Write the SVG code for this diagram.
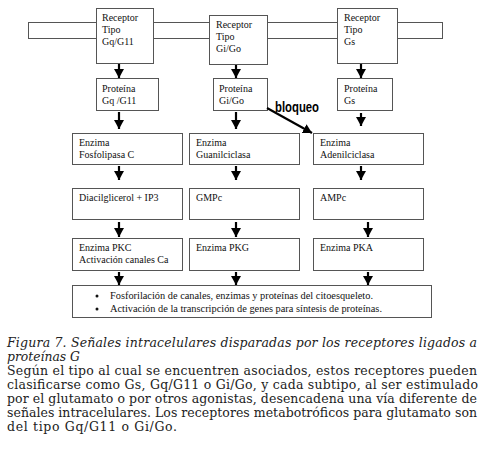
<svg xmlns="http://www.w3.org/2000/svg" width="486" height="449" viewBox="0 0 486 449">
<style>
.box{fill:#fff;stroke:#555;stroke-width:1}
.t{font-family:"Liberation Serif","Times New Roman",serif;font-size:10px;fill:#111}
.s{font-family:"Liberation Serif","Times New Roman",serif;font-size:9.5px;fill:#111}
.cap{font-family:"DejaVu Serif","Liberation Serif",serif;font-size:12.5px;fill:#222}
.ar{stroke:#000;stroke-width:2.2;fill:none}
</style>
<defs>
<marker id="ah" viewBox="0 0 9 10" markerWidth="9" markerHeight="10" refX="9" refY="5" orient="auto" markerUnits="userSpaceOnUse">
<path d="M0,0 L9,5 L0,10 z" fill="#000"/>
</marker>
</defs>
<rect width="486" height="449" fill="#fff"/>
<g id="membrana">
<rect x="28.5" y="22.5" width="414" height="16" fill="none" stroke="#555"/>
</g>
<g id="receptor-gq">
<rect class="box" x="96.5" y="8.5" width="57" height="55"/>
<text class="t" x="102" y="21">Receptor</text>
<text class="t" x="102" y="33">Tipo</text>
<text class="t" x="102" y="45">Gq/G11</text>
</g>
<g id="receptor-gi">
<rect class="box" x="209.5" y="15.5" width="58" height="49"/>
<text class="t" x="216" y="28">Receptor</text>
<text class="t" x="216" y="40">Tipo</text>
<text class="t" x="216" y="52">Gi/Go</text>
</g>
<g id="receptor-gs">
<rect class="box" x="337.5" y="8.5" width="60" height="55"/>
<text class="t" x="344" y="21">Receptor</text>
<text class="t" x="344" y="33">Tipo</text>
<text class="t" x="344" y="45">Gs</text>
</g>
<g id="proteina-gq">
<rect class="box" x="96.5" y="78.5" width="62" height="32"/>
<text class="t" x="102" y="92">Proteína</text>
<text class="t" x="102" y="104">Gq /G11</text>
</g>
<g id="proteina-gi">
<rect class="box" x="213.5" y="78.5" width="54" height="32"/>
<text class="t" x="219" y="92">Proteína</text>
<text class="t" x="219" y="104">Gi/Go</text>
</g>
<g id="proteina-gs">
<rect class="box" x="337.5" y="78.5" width="55" height="32"/>
<text class="t" x="344" y="92">Proteína</text>
<text class="t" x="344" y="104">Gs</text>
</g>
<g id="enzima-plc">
<rect class="box" x="72.5" y="133.5" width="110" height="31"/>
<text class="t" x="79" y="146">Enzima</text>
<text class="t" x="79" y="157.5">Fosfolipasa C</text>
</g>
<g id="enzima-gc">
<rect class="box" x="189.5" y="133.5" width="110" height="31"/>
<text class="t" x="196" y="146">Enzima</text>
<text class="t" x="196" y="157.5">Guanilciclasa</text>
</g>
<g id="enzima-ac">
<rect class="box" x="313.5" y="133.5" width="110" height="31"/>
<text class="t" x="320" y="146">Enzima</text>
<text class="t" x="320" y="157.5">Adenilciclasa</text>
</g>
<g id="dag-ip3">
<rect class="box" x="72.5" y="188.5" width="110" height="31"/>
<text class="t" x="79" y="200.5">Diacilglicerol + IP3</text>
</g>
<g id="gmpc">
<rect class="box" x="189.5" y="188.5" width="110" height="31"/>
<text class="t" x="196" y="200.5">GMPc</text>
</g>
<g id="ampc">
<rect class="box" x="313.5" y="188.5" width="110" height="31"/>
<text class="t" x="320" y="200.5">AMPc</text>
</g>
<g id="pkc">
<rect class="box" x="72.5" y="238.5" width="110" height="32"/>
<text class="t" x="79" y="251">Enzima PKC</text>
<text class="t" x="79" y="263">Activación canales Ca</text>
</g>
<g id="pkg">
<rect class="box" x="189.5" y="238.5" width="110" height="32"/>
<text class="t" x="196" y="251">Enzima PKG</text>
</g>
<g id="pka">
<rect class="box" x="313.5" y="238.5" width="110" height="32"/>
<text class="t" x="320" y="251">Enzima PKA</text>
</g>
<g id="efectos">
<rect class="box" x="72.5" y="285.5" width="359" height="32"/>
<circle cx="97" cy="296" r="1.5" fill="#111"/>
<circle cx="97" cy="309" r="1.5" fill="#111"/>
<text class="s" x="110" y="298.5" textLength="263" lengthAdjust="spacingAndGlyphs">Fosforilación de canales, enzimas y proteínas del citoesqueleto.</text>
<text class="s" x="110" y="312" textLength="272" lengthAdjust="spacingAndGlyphs">Activación de la transcripción de genes para síntesis de proteínas.</text>
</g>
<g id="conectores">
<line class="ar" x1="119" y1="64" x2="119" y2="78" marker-end="url(#ah)"/>
<line class="ar" x1="236" y1="65" x2="236" y2="78" marker-end="url(#ah)"/>
<line class="ar" x1="361" y1="64" x2="361" y2="78" marker-end="url(#ah)"/>
<line class="ar" x1="119" y1="112" x2="119" y2="129" marker-end="url(#ah)"/>
<line class="ar" x1="236" y1="112" x2="236" y2="129" marker-end="url(#ah)"/>
<line class="ar" x1="361" y1="113" x2="361" y2="126" marker-end="url(#ah)"/>
<line class="ar" x1="119" y1="166" x2="119" y2="180" marker-end="url(#ah)"/>
<line class="ar" x1="236" y1="166" x2="236" y2="180" marker-end="url(#ah)"/>
<line class="ar" x1="361" y1="166" x2="361" y2="180" marker-end="url(#ah)"/>
<line class="ar" x1="119" y1="222" x2="119" y2="237" marker-end="url(#ah)"/>
<line class="ar" x1="236" y1="222" x2="236" y2="237" marker-end="url(#ah)"/>
<line class="ar" x1="368" y1="222" x2="368" y2="237" marker-end="url(#ah)"/>
<line class="ar" x1="119" y1="272" x2="119" y2="285" marker-end="url(#ah)"/>
<line class="ar" x1="236" y1="272" x2="236" y2="285" marker-end="url(#ah)"/>
<line class="ar" x1="368" y1="272" x2="368" y2="285" marker-end="url(#ah)"/>
<line class="ar" x1="267" y1="108" x2="312" y2="133" marker-end="url(#ah)"/>
<text x="275" y="111.5" font-family="'Liberation Sans',Arial,sans-serif" font-weight="bold" font-size="14" textLength="44" lengthAdjust="spacingAndGlyphs" fill="#000">bloqueo</text>
</g>
<g id="leyenda">
<text class="cap" font-style="italic" x="7" y="347" textLength="470" lengthAdjust="spacing">Figura 7. Señales intracelulares disparadas por los receptores ligados a</text>
<text class="cap" font-style="italic" x="7" y="360.5" textLength="73" lengthAdjust="spacingAndGlyphs">proteínas G</text>
<text class="cap" x="7" y="374.5" textLength="470" lengthAdjust="spacing">Según el tipo al cual se encuentren asociados, estos receptores pueden</text>
<text class="cap" x="7" y="388.5" textLength="471" lengthAdjust="spacing">clasificarse como Gs, Gq/G11 o Gi/Go, y cada subtipo, al ser estimulado</text>
<text class="cap" x="7" y="403" textLength="470" lengthAdjust="spacing">por el glutamato o por otros agonistas, desencadena una vía diferente de</text>
<text class="cap" x="7" y="417" textLength="470" lengthAdjust="spacing">señales intracelulares. Los receptores metabotróficos para glutamato son</text>
<text class="cap" x="7" y="431" textLength="170" lengthAdjust="spacing">del tipo Gq/G11 o Gi/Go.</text>
</g>
</svg>
